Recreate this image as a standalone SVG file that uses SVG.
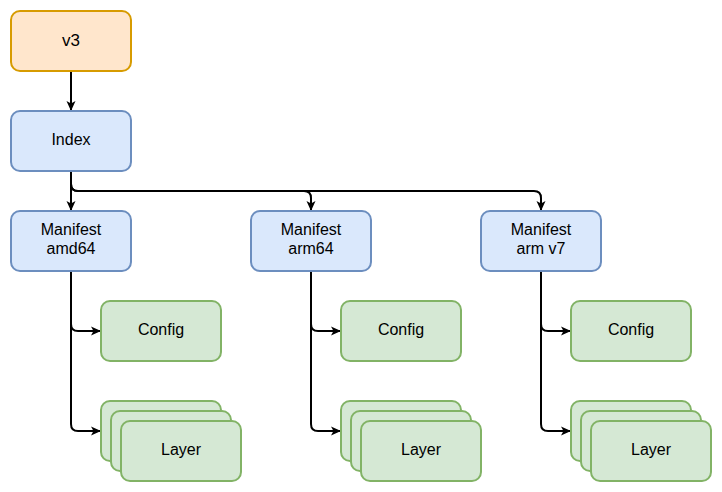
<svg xmlns="http://www.w3.org/2000/svg" width="722" height="492" viewBox="0 0 722 492">
<defs>
<style>
.orange{fill:#ffe6cc;stroke:#d79b00;stroke-width:2}
.blue{fill:#dae8fc;stroke:#6c8ebf;stroke-width:2}
.green{fill:#d5e8d4;stroke:#82b366;stroke-width:2}
text{font-family:"Liberation Sans",Arial,sans-serif;font-size:16px;fill:#000;text-anchor:middle}
.edge{fill:none;stroke:#000;stroke-width:2}
</style>
<marker id="arr" viewBox="0 0 10 10" refX="10" refY="5" markerWidth="10" markerHeight="10" markerUnits="userSpaceOnUse" orient="auto">
<path d="M0,0.5 L10,5 L0,9.5 L2.5,5 Z" fill="#000"/>
</marker>
</defs>
<rect width="722" height="492" fill="#fff"/>
<g id="connectors">
<path class="edge" d="M71,71 L71,111" marker-end="url(#arr)"/>
<path class="edge" d="M71,171 L71,211" marker-end="url(#arr)"/>
<path class="edge" d="M71,171 L71,184 Q71,191 78,191 L304,191 Q311,191 311,198 L311,211" marker-end="url(#arr)"/>
<path class="edge" d="M71,171 L71,184 Q71,191 78,191 L534,191 Q541,191 541,198 L541,211" marker-end="url(#arr)"/>
<path class="edge" d="M71,271 L71,324 Q71,331 78,331 L101,331" marker-end="url(#arr)"/>
<path class="edge" d="M71,271 L71,424 Q71,431 78,431 L101,431" marker-end="url(#arr)"/>
<path class="edge" d="M311,271 L311,324 Q311,331 318,331 L341,331" marker-end="url(#arr)"/>
<path class="edge" d="M311,271 L311,424 Q311,431 318,431 L341,431" marker-end="url(#arr)"/>
<path class="edge" d="M541,271 L541,324 Q541,331 548,331 L571,331" marker-end="url(#arr)"/>
<path class="edge" d="M541,271 L541,424 Q541,431 548,431 L571,431" marker-end="url(#arr)"/>
</g>
<g id="v3"><rect class="orange" x="11" y="11" width="120" height="60" rx="9"/><text x="71" y="46" style="font-size:17px">v3</text></g>
<g id="index"><rect class="blue" x="11" y="111" width="120" height="60" rx="9"/><text x="71" y="145">Index</text></g>
<g id="manifest-amd64"><rect class="blue" x="11" y="211" width="120" height="60" rx="9"/><text x="71" y="234.5">Manifest</text><text x="71" y="254">amd64</text></g>
<g id="manifest-arm64"><rect class="blue" x="251" y="211" width="120" height="60" rx="9"/><text x="311" y="234.5">Manifest</text><text x="311" y="254">arm64</text></g>
<g id="manifest-armv7"><rect class="blue" x="481" y="211" width="120" height="60" rx="9"/><text x="541" y="234.5">Manifest</text><text x="541" y="254">arm v7</text></g>
<g id="config-amd64"><rect class="green" x="101" y="301" width="120" height="60" rx="9"/><text x="161" y="335">Config</text></g>
<g id="config-arm64"><rect class="green" x="341" y="301" width="120" height="60" rx="9"/><text x="401" y="335">Config</text></g>
<g id="config-armv7"><rect class="green" x="571" y="301" width="120" height="60" rx="9"/><text x="631" y="335">Config</text></g>
<g id="layer-amd64"><rect class="green" x="101" y="401" width="120" height="60" rx="9"/><rect class="green" x="111" y="411" width="120" height="60" rx="9"/><rect class="green" x="121" y="421" width="120" height="60" rx="9"/><text x="181" y="455">Layer</text></g>
<g id="layer-arm64"><rect class="green" x="341" y="401" width="120" height="60" rx="9"/><rect class="green" x="351" y="411" width="120" height="60" rx="9"/><rect class="green" x="361" y="421" width="120" height="60" rx="9"/><text x="421" y="455">Layer</text></g>
<g id="layer-armv7"><rect class="green" x="571" y="401" width="120" height="60" rx="9"/><rect class="green" x="581" y="411" width="120" height="60" rx="9"/><rect class="green" x="591" y="421" width="120" height="60" rx="9"/><text x="651" y="455">Layer</text></g>
</svg>
